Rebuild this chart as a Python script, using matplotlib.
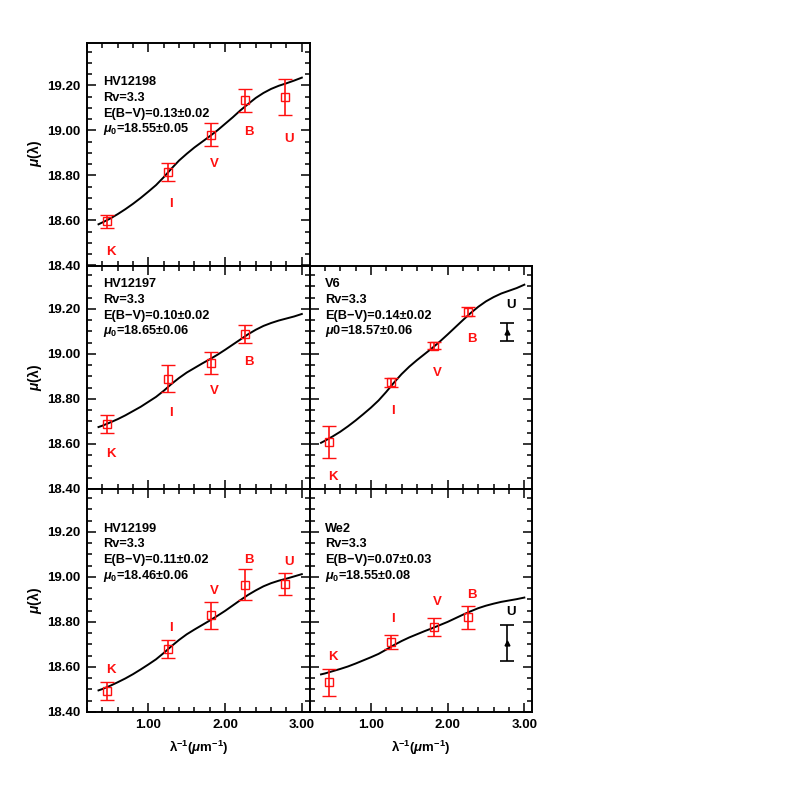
import matplotlib
matplotlib.use("Agg")
import matplotlib.pyplot as plt
from matplotlib.ticker import MultipleLocator, FormatStrFormatter

plt.rcParams['font.family'] = ['Liberation Sans', 'DejaVu Sans']
plt.rcParams['font.weight'] = 'bold'
plt.rcParams['axes.labelweight'] = 'bold'
plt.rcParams['mathtext.fontset'] = 'custom'
plt.rcParams['mathtext.rm'] = 'Liberation Sans:bold'
plt.rcParams['mathtext.it'] = 'Liberation Sans:italic:bold'
plt.rcParams['mathtext.bf'] = 'Liberation Sans:bold'

# ---------------- data ----------------
bands = ["K", "I", "V", "B", "U"]
band_x = [0.46, 1.26, 1.82, 2.26, 2.78]

curve_x = [0.35, 0.4, 0.5, 0.6, 0.7, 0.8, 0.9, 1.0, 1.1, 1.2, 1.3, 1.4, 1.5, 1.6,
           1.7, 1.8, 1.9, 2.0, 2.1, 2.2, 2.3, 2.4, 2.5, 2.6, 2.7, 2.8, 2.9, 3.0]

# HV12198
hv12198_mu = [18.596, 18.813, 18.981, 19.133, 19.148]
hv12198_err = [0.03, 0.04, 0.05, 0.05, 0.08]
hv12198_curve = [18.583, 18.591, 18.608, 18.628, 18.650, 18.674, 18.700, 18.728, 18.757,
                 18.792, 18.830, 18.866, 18.896, 18.924, 18.949, 18.974, 19.000, 19.029,
                 19.058, 19.089, 19.117, 19.144, 19.166, 19.184, 19.198, 19.209, 19.221, 19.234]

# HV12197
hv12197_mu = [18.687, 18.889, 18.959, 19.089]
hv12197_err = [0.04, 0.06, 0.05, 0.04]
hv12197_curve = [18.675, 18.681, 18.695, 18.710, 18.727, 18.746, 18.765, 18.787, 18.809,
                 18.836, 18.866, 18.893, 18.917, 18.937, 18.957, 18.976, 18.996, 19.018,
                 19.041, 19.064, 19.087, 19.107, 19.124, 19.137, 19.148, 19.157, 19.166, 19.177]

# V6
v6_mu = [18.608, 18.874, 19.036, 19.188]
v6_err = [0.07, 0.02, 0.015, 0.02]
v6_u_mu = [19.099]
v6_u_err = [0.04]
v6_curve = [18.605, 18.614, 18.633, 18.654, 18.678, 18.704, 18.732, 18.761, 18.793,
            18.831, 18.872, 18.910, 18.943, 18.972, 18.999, 19.026, 19.055, 19.086,
            19.118, 19.150, 19.181, 19.209, 19.233, 19.252, 19.268, 19.280, 19.292, 19.307]

# HV12199
hv12199_mu = [18.493, 18.679, 18.830, 18.966, 18.968]
hv12199_err = [0.04, 0.04, 0.06, 0.07, 0.05]
hv12199_curve = [18.496, 18.502, 18.516, 18.532, 18.549, 18.568, 18.589, 18.611, 18.634,
                 18.662, 18.692, 18.720, 18.745, 18.766, 18.786, 18.806, 18.827, 18.849,
                 18.873, 18.897, 18.920, 18.940, 18.958, 18.972, 18.983, 18.992, 19.002, 19.012]

# We2
we2_mu = [18.533, 18.711, 18.778, 18.820]
we2_err = [0.06, 0.03, 0.04, 0.05]
we2_u_mu = [18.707]
we2_u_err = [0.08]
we2_curve = [18.567, 18.571, 18.581, 18.591, 18.602, 18.615, 18.629, 18.643, 18.658,
             18.677, 18.697, 18.715, 18.731, 18.745, 18.759, 18.772, 18.786, 18.800,
             18.816, 18.832, 18.847, 18.861, 18.872, 18.881, 18.889, 18.895, 18.901, 18.908]

info_hv12198 = ["HV12198", "Rv=3.3", "E(B\u2212V)=0.13\u00b10.02", "$\\mu_0$=18.55\u00b10.05"]
info_hv12197 = ["HV12197", "Rv=3.3", "E(B\u2212V)=0.10\u00b10.02", "$\\mu_0$=18.65\u00b10.06"]
info_v6 = ["V6", "Rv=3.3", "E(B\u2212V)=0.14\u00b10.02", "$\\mu$0=18.57\u00b10.06"]
info_hv12199 = ["HV12199", "Rv=3.3", "E(B\u2212V)=0.11\u00b10.02", "$\\mu_0$=18.46\u00b10.06"]
info_we2 = ["We2", "Rv=3.3", "E(B\u2212V)=0.07\u00b10.03", "$\\mu_0$=18.55\u00b10.08"]

# ---------------- layout (band-label placement) ----------------
label_x = [0.51, 1.29, 1.86, 2.31, 2.83]
lab_hv12198 = [18.462, 18.673, 18.850, 18.991, 18.962]
lab_hv12197 = [18.556, 18.736, 18.836, 18.966]
lab_v6 = [18.455, 18.747, 18.917, 19.066]
lab_v6_u = 19.215
lab_hv12199 = [18.588, 18.773, 18.936, 19.074, 19.064]
lab_we2 = [18.642, 18.815, 18.889, 18.919]
lab_we2_u = 18.844

W = 797
fig = plt.figure(figsize=(7.97, 7.97), dpi=100)

lx0 = 87 / W
rx0 = 309.5 / W
aw = 222.5 / W
ah = 223 / W
rows = [1 - 265.5 / W, 1 - 489 / W, 1 - 712 / W]

RED = '#ff1010'
FS = 9.5


def make_ax(x0, y0, left_labels, bottom_labels):
    ax = fig.add_axes([x0, y0, aw, ah])
    ax.set_xlim(0.2, 3.1)
    ax.set_ylim(18.40, 19.39)
    ax.xaxis.set_major_locator(MultipleLocator(1.0))
    ax.xaxis.set_minor_locator(MultipleLocator(0.2))
    ax.yaxis.set_major_locator(MultipleLocator(0.2))
    ax.yaxis.set_minor_locator(MultipleLocator(0.05))
    ax.xaxis.set_major_formatter(FormatStrFormatter('%.2f'))
    ax.yaxis.set_major_formatter(FormatStrFormatter('%.2f'))
    ax.tick_params(which='both', direction='in', top=True, right=True,
                   labelleft=left_labels, labelbottom=bottom_labels,
                   labelsize=FS, width=1.1, pad=5)
    ax.tick_params(which='major', length=6.5)
    ax.tick_params(which='minor', length=3.4)
    for s in ax.spines.values():
        s.set_linewidth(1.4)
    for lab in ax.get_xticklabels() + ax.get_yticklabels():
        lab.set_fontweight('bold')
    if left_labels:
        ax.set_ylabel("$\\mu$(\u03bb)", fontsize=10, fontweight='bold', labelpad=2)
    if bottom_labels:
        ax.set_xlabel("\u03bb$^{-1}$($\\mu$m$^{-1}$)", fontsize=FS, fontweight='bold',
                      labelpad=6)
    return ax


def draw(ax, mu, err, curve, labs, info, top_frac):
    n = len(mu)
    ax.plot(curve_x, curve, color='black', lw=1.4, zorder=2)
    ax.errorbar(band_x[:n], mu, yerr=err, fmt='s', ms=5.3, mfc='none', mec=RED,
                mew=1.0, ecolor=RED, elinewidth=1.2, capsize=4.8, capthick=1.2, zorder=3)
    for i in range(n):
        ax.text(label_x[i], labs[i], bands[i], color=RED, fontsize=FS,
                fontweight='bold', ha='center', va='center')
    for j, line in enumerate(info):
        ax.text(0.071, top_frac - j * 0.0705, line, transform=ax.transAxes,
                fontsize=9.2, fontweight='bold', ha='left', va='center')


ax1 = make_ax(lx0, rows[0], True, False)
draw(ax1, hv12198_mu, hv12198_err, hv12198_curve, lab_hv12198, info_hv12198, 0.822)

ax2 = make_ax(lx0, rows[1], True, False)
draw(ax2, hv12197_mu, hv12197_err, hv12197_curve, lab_hv12197, info_hv12197, 0.918)

ax3 = make_ax(rx0, rows[1], False, False)
draw(ax3, v6_mu, v6_err, v6_curve, lab_v6, info_v6, 0.918)
ax3.errorbar([band_x[4]], v6_u_mu, yerr=v6_u_err, fmt='^', ms=3.5, color='black',
             elinewidth=1.2, capsize=4.8, capthick=1.2)
ax3.text(label_x[4], lab_v6_u, "U", color='black', fontsize=FS, fontweight='bold',
         ha='center', va='center')

ax4 = make_ax(lx0, rows[2], True, True)
draw(ax4, hv12199_mu, hv12199_err, hv12199_curve, lab_hv12199, info_hv12199, 0.822)

ax5 = make_ax(rx0, rows[2], False, True)
draw(ax5, we2_mu, we2_err, we2_curve, lab_we2, info_we2, 0.822)
ax5.errorbar([band_x[4]], we2_u_mu, yerr=we2_u_err, fmt='^', ms=3.5, color='black',
             elinewidth=1.2, capsize=4.8, capthick=1.2)
ax5.text(label_x[4], lab_we2_u, "U", color='black', fontsize=FS, fontweight='bold',
         ha='center', va='center')

fig.savefig("out.png", dpi=100)
